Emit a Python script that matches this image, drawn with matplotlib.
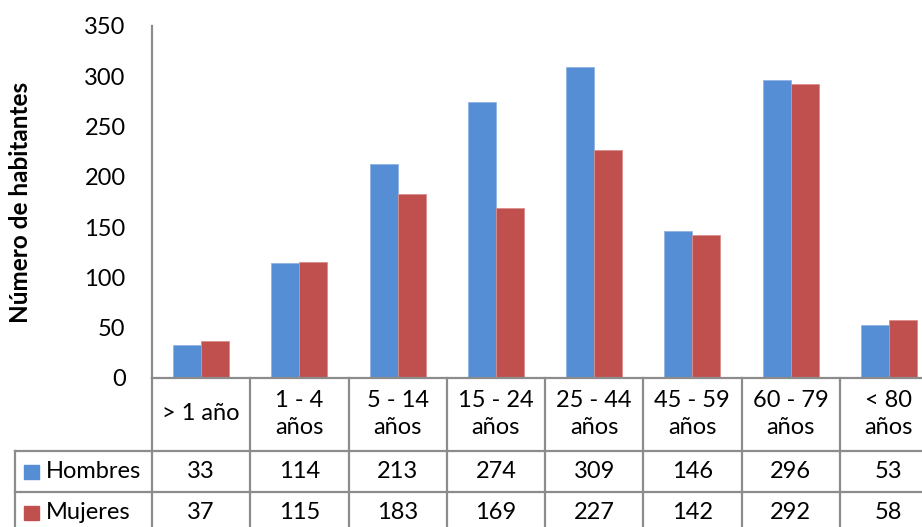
import numpy as np
import matplotlib.pyplot as plt

plt.rcParams['font.family'] = ['Lato', 'DejaVu Sans']

grupos = ['> 1 año', '1 - 4\naños', '5 - 14\naños', '15 - 24\naños',
          '25 - 44\naños', '45 - 59\naños', '60 - 79\naños', '< 80\naños']
hombres = [33, 114, 213, 274, 309, 146, 296, 53]
mujeres = [37, 115, 183, 169, 227, 142, 292, 58]
series = ['Hombres', 'Mujeres']
colores = ['#558ED5', '#C0504D']

W, H = 922, 527
fig = plt.figure(figsize=(W / 100, H / 100), dpi=100)
gris = '#8C8C8C'
fs = 17

# grafico de columnas (el eje se sale un poco por la derecha)
x0, x1 = 152, 938
ax = fig.add_axes([x0 / W, (H - 378) / H, (x1 - x0) / W, 352 / H])
x = np.arange(len(grupos))
bw = 0.285
ax.bar(x - bw / 2, hombres, bw, color=colores[0], edgecolor='#8FB3E3', linewidth=0.6)
ax.bar(x + bw / 2, mujeres, bw, color=colores[1], edgecolor='#D98F8D', linewidth=0.6)
ax.set_xlim(-0.5, len(grupos) - 0.5)
ax.set_ylim(0, 350)
ax.set_yticks(range(0, 351, 50))
ax.tick_params(axis='y', length=0, labelsize=fs, pad=19)
ax.set_xticks([])
for s in ['top', 'right']:
    ax.spines[s].set_visible(False)
for s in ['left', 'bottom']:
    ax.spines[s].set_color(gris)
    ax.spines[s].set_linewidth(1.6)
ax.set_ylabel('Número de habitantes', fontsize=17.5, fontweight='bold')
ax.yaxis.set_label_coords((32 - x0) / (x1 - x0), 0.5)

# tabla de datos debajo del eje
tab = fig.add_axes([x0 / W, (H - 533) / H, (x1 - x0) / W, 155 / H])
tab.set_xlim(-0.5, len(grupos) - 0.5)
tab.set_ylim(155, 0)
tab.axis('off')
filas = [(73, 114), (114, 155)]
xl = -0.5 - 137 / 98.25
kw = dict(color=gris, linewidth=1.6, clip_on=False)
for i in range(len(grupos) + 1):
    tab.plot([i - 0.5, i - 0.5], [0, 155], **kw)
for y in [73, 114, 155]:
    tab.plot([xl, len(grupos) - 0.5], [y, y], **kw)
tab.plot([xl, xl], [73, 155], **kw)

for i, g in enumerate(grupos):
    tab.text(i, 36, g, ha='center', va='center', fontsize=fs, linespacing=1.35)
for (ya, yb), nombre, vals, c in zip(filas, series, [hombres, mujeres], colores):
    ym = (ya + yb) / 2
    for i, v in enumerate(vals):
        tab.text(i, ym, str(v), ha='center', va='center', fontsize=fs)
    tab.add_patch(plt.Rectangle((xl + 9 / 98.25, ym - 6.5), 15 / 98.25, 14,
                                color=c, clip_on=False))
    tab.text(xl + 31 / 98.25, ym, nombre, ha='left', va='center', fontsize=fs)

fig.savefig('out.png', dpi=100)
